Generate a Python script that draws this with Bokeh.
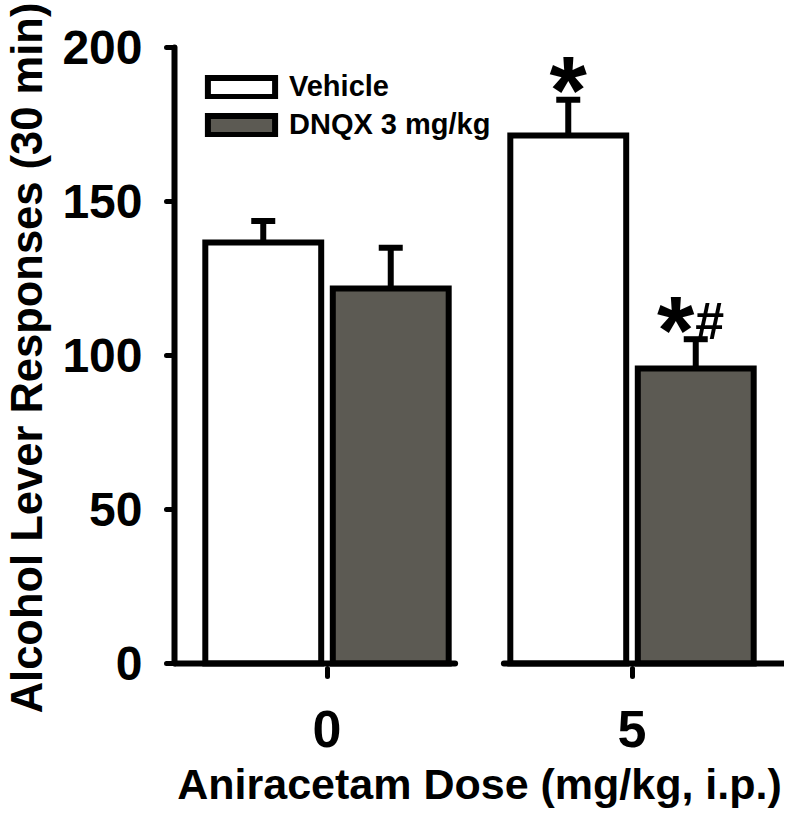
from bokeh.plotting import figure
from bokeh.models import (Range1d, FixedTicker, Whisker, TeeHead, ColumnDataSource,
                          Legend, LegendItem)
from bokeh.core.properties import value
from bokeh.embed import file_html
from bokeh.resources import INLINE

# ---- data ----
doses = ["0", "5"]
series = ["Vehicle", "DNQX 3 mg/kg"]
vehicle_mean = [136.7, 171.4]
vehicle_sem = [7.0, 11.6]
dnqx_mean = [121.8, 95.8]
dnqx_sem = [13.2, 9.5]
y_ticks = [0, 50, 100, 150, 200]
star_on_vehicle = [False, True]
star_on_dnqx = [False, True]
hash_on_dnqx = [False, True]

FONT = "Liberation Sans"
DNQX_COLOR = "#5c5a53"

group_pos = list(range(len(doses)))
dodge = 0.209
bar_w = 0.38

veh_x = [g - dodge for g in group_pos]
dnq_x = [g + dodge for g in group_pos]

veh_src = ColumnDataSource(dict(x=veh_x, top=vehicle_mean,
                                upper=[m + s for m, s in zip(vehicle_mean, vehicle_sem)]))
dnq_src = ColumnDataSource(dict(x=dnq_x, top=dnqx_mean,
                                upper=[m + s for m, s in zip(dnqx_mean, dnqx_sem)]))

p = figure(width=784, height=810,
           x_range=Range1d(-0.5, 1.5), y_range=Range1d(-1.6, 200),
           output_backend="svg", toolbar_location=None,
           min_border_left=172, min_border_right=0,
           min_border_top=47, min_border_bottom=142)
p.outline_line_color = None
p.grid.visible = False
p.background_fill_color = "white"
p.border_fill_color = "white"

# error bars (upper only)
for src in (veh_src, dnq_src):
    w = Whisker(source=src, base="x", lower="top", upper="upper", dimension="height",
                line_width=6, line_color="black",
                lower_head=None,
                upper_head=TeeHead(size=24, line_width=6, line_color="black"))
    w.level = "underlay"
    p.add_layout(w)

r_veh = p.vbar(x="x", top="top", bottom=0, width=bar_w, source=veh_src,
               fill_color="white", line_color="black", line_width=6, line_join="miter")
r_dnq = p.vbar(x="x", top="top", bottom=0, width=bar_w, source=dnq_src,
               fill_color=DNQX_COLOR, line_color="black", line_width=6, line_join="miter")

# broken x-axis line: one segment per dose group
gap = 0.08
seg_x0 = [g - 0.5 if i == 0 else g - 0.5 + gap for i, g in enumerate(group_pos)]
seg_x1 = [g + 0.5 - gap if i == 0 else g + 0.5 for i, g in enumerate(group_pos)]
p.segment(x0=seg_x0, x1=seg_x1, y0=[0] * len(group_pos), y1=[0] * len(group_pos),
          line_color="black", line_width=6, line_cap="round")

# significance marks
sx, sy, sxo = [], [], []
for i in group_pos:
    if star_on_vehicle[i]:
        sx.append(veh_x[i]); sy.append(vehicle_mean[i] + vehicle_sem[i]); sxo.append(0)
    if star_on_dnqx[i]:
        sx.append(dnq_x[i]); sy.append(dnqx_mean[i] + dnqx_sem[i]); sxo.append(-20)
p.text(x=sx, y=sy, text=["*"] * len(sx), x_offset=sxo, y_offset=[-10] * len(sx),
       text_font=value(FONT), text_font_style="bold", text_font_size="96px",
       text_align="center", text_baseline="alphabetic", text_color="black")
hx = [dnq_x[i] for i in group_pos if hash_on_dnqx[i]]
hy = [dnqx_mean[i] + dnqx_sem[i] for i in group_pos if hash_on_dnqx[i]]
p.text(x=hx, y=hy, text=["#"] * len(hx), x_offset=[14] * len(hx), y_offset=[-18] * len(hx),
       text_font=value(FONT), text_font_style="bold", text_font_size="52px",
       text_align="center", text_baseline="alphabetic", text_color="black")

# axes
xa = p.xaxis[0]
xa.ticker = FixedTicker(ticks=group_pos)
xa.major_label_overrides = {g: d for g, d in zip(group_pos, doses)}
xa.axis_line_color = None
xa.major_tick_in = 0
xa.major_tick_out = 8
xa.major_tick_line_width = 5
xa.major_tick_line_cap = "round"
xa.minor_tick_line_color = None
xa.major_label_text_font = FONT
xa.major_label_text_font_style = "bold"
xa.major_label_text_font_size = "52px"
xa.major_label_text_color = "black"
xa.major_label_standoff = 34
xa.axis_label = "Aniracetam Dose (mg/kg, i.p.)"
xa.axis_label_text_font = FONT
xa.axis_label_text_font_style = "bold"
xa.axis_label_text_font_size = "43px"
xa.axis_label_text_color = "black"
xa.axis_label_standoff = 10

ya = p.yaxis[0]
ya.ticker = FixedTicker(ticks=y_ticks)
ya.bounds = (0, 200)
ya.axis_line_width = 6
ya.axis_line_cap = "round"
ya.axis_line_color = "black"
ya.major_tick_in = 0
ya.major_tick_out = 8
ya.major_tick_line_width = 5
ya.major_tick_line_cap = "round"
ya.minor_tick_line_color = None
ya.major_label_text_font = FONT
ya.major_label_text_font_style = "bold"
ya.major_label_text_font_size = "48px"
ya.major_label_text_color = "black"
ya.major_label_standoff = 24
ya.axis_label = "Alcohol Lever Responses (30 min)"
ya.axis_label_text_font = FONT
ya.axis_label_text_font_style = "bold"
ya.axis_label_text_font_size = "43.5px"
ya.axis_label_text_color = "black"
ya.axis_label_standoff = 8

legend = Legend(items=[LegendItem(label=series[0], renderers=[r_veh]),
                       LegendItem(label=series[1], renderers=[r_dnq])],
                location=(25, 527), glyph_width=84, glyph_height=24,
                label_standoff=6, label_height=24, spacing=5,
                padding=0, margin=0,
                label_text_font=FONT, label_text_font_style="bold",
                label_text_font_size="29px", label_text_color="black",
                border_line_alpha=0, background_fill_alpha=0)
p.add_layout(legend)

open("out.html", "w").write(file_html(p, INLINE))
